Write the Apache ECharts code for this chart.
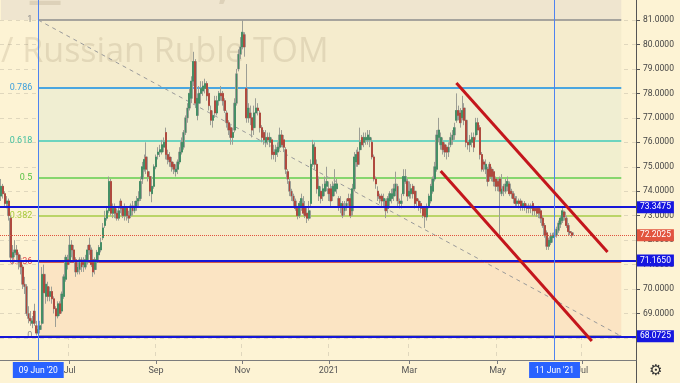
<!DOCTYPE html>
<html><head><meta charset="utf-8">
<script src="https://cdn.jsdelivr.net/npm/echarts@6/dist/echarts.min.js"></script>
<style>html,body{margin:0;padding:0;background:#fdf3d4;}#c{width:680px;height:383px;}</style>
</head><body><div id="c"></div>
<script>
// ---------- DATA ----------
const startDate = '2020-05-13';      // first daily bar (weekdays only)
const categoryCount = 324;           // bars incl. empty future space
// [open, close, low, high]
const ohlcPart1 = [
[73.8,74.2,73.6,74.5],[74.2,73.9,73.7,74.3],[73.9,73.5,73.4,74.0],[73.5,73.6,73.3,73.8],[73.6,73.0,72.8,73.7],
[72.9,71.3,71.1,73.0],[71.3,71.5,71.0,71.8],[71.5,71.6,71.3,72.0],[71.6,71.4,71.1,71.8],[71.4,71.1,70.8,71.5],
[71.1,70.9,70.6,71.4],[70.9,70.2,70.0,71.0],[70.2,70.1,69.8,70.5],[70.1,69.0,68.9,70.2],[69.0,68.8,68.6,69.3],
[68.8,68.7,68.5,69.1],[68.6,68.7,68.4,68.9],[69.1,68.6,68.5,69.4],[68.5,68.2,68.1,68.7],[68.2,68.35,68.07,68.5],
[68.35,68.5,68.2,68.7],[68.6,70.6,68.5,70.9],[70.6,69.85,69.7,71.0],[69.7,70.2,69.4,70.4],[70.1,69.7,69.5,70.3],
[69.7,69.9,69.5,70.1],[69.9,69.6,69.4,70.1],[69.6,69.2,69.0,69.7],[69.2,68.9,68.45,69.3],[68.9,69.4,68.8,69.5],
[69.4,69.0,68.9,69.5],[69.1,69.8,69.0,69.9],[69.7,70.5,69.6,70.6],[70.4,71.3,70.3,71.4],[71.2,71.0,70.8,71.4]
];
const ohlcPart2 = [
[71.1,71.8,71.0,72.2],[71.8,71.6,71.3,72.0],[71.6,71.2,71.1,71.8],[71.2,70.7,70.5,71.3],[70.7,70.9,70.6,71.1],
[70.8,71.2,70.6,71.3],[71.2,70.9,70.7,71.3],[71.1,71.0,70.7,71.3],[70.9,71.2,70.8,71.4],[71.1,71.6,71.0,71.8],
[71.8,71.6,71.4,72.1],[71.6,71.0,70.9,71.7],[71.2,70.7,70.5,71.3],[70.8,71.2,70.6,71.3],[71.1,71.5,71.0,71.6],
[71.4,71.7,71.3,71.8],[71.6,71.9,71.5,72.1],[72.1,72.5,72.0,72.7],[72.6,72.9,72.5,73.2],[72.9,73.2,72.8,73.4],
[73.2,74.4,73.1,74.6],[74.4,73.1,73.0,74.5],[73.1,73.3,72.9,73.5],[73.3,73.1,72.9,73.5],[73.1,72.9,72.8,73.3],
[72.9,73.2,72.8,73.4],[73.6,73.3,73.1,73.7],[73.3,73.0,72.9,73.4],[73.0,73.3,72.8,73.5],[73.3,73.0,72.8,73.4],
[73.0,72.9,72.7,73.2],[73.0,73.4,72.9,73.5],[73.4,73.2,73.0,73.6],[73.2,73.4,73.1,73.6],[73.4,73.6,73.2,73.8],
[73.6,73.7,73.4,74.0],[73.7,74.4,73.6,74.6],[74.5,75.0,74.3,75.2],[74.9,75.3,74.8,75.5],[75.4,74.9,74.7,76.0],
[74.8,74.6,74.4,75.0],[74.6,74.0,73.8,74.7],[73.9,74.2,73.55,74.4],[74.2,75.0,74.1,75.1],[75.0,75.4,74.9,75.5]
];
const ohlcPart3 = [
[75.5,75.6,75.3,75.8],[75.6,75.7,75.4,75.9],[75.6,75.9,75.5,76.1],[75.8,76.0,75.6,76.2],[76.4,75.5,75.3,76.6],
[75.5,75.3,75.1,75.7],[75.4,75.2,75.0,75.6],[75.2,75.0,74.8,75.4],[75.1,74.9,74.7,75.2],[74.8,74.9,74.6,75.1],
[74.9,75.2,74.7,75.3],[75.2,75.6,75.1,75.8],[75.6,76.0,75.5,76.2],[75.8,76.4,75.7,76.5],[76.4,77.0,76.3,77.1],
[77.0,77.4,76.8,77.6],[77.4,78.0,77.3,78.2],[77.8,78.5,77.6,78.7],[78.5,79.3,78.3,79.7],[79.3,77.6,77.4,79.4],
[77.1,77.8,76.9,78.0],[77.6,78.0,77.4,78.3],[78.0,78.2,77.9,78.5],[78.1,78.3,77.9,78.5],[78.2,78.4,78.0,78.6],
[78.4,77.9,77.7,78.5],[78.0,77.5,77.3,78.2],[77.3,76.9,76.7,77.5],[76.9,77.1,76.6,77.3],[77.7,77.2,77.0,77.9],
[77.2,77.7,77.1,77.9],[77.7,78.0,77.5,78.1],[78.0,77.9,77.7,78.3],[78.0,77.7,77.5,78.1],[77.7,77.3,77.2,77.8],
[77.2,76.8,76.6,77.3],[76.8,76.5,76.3,76.9],[76.6,76.2,75.9,76.7],[76.2,76.4,75.9,76.6],[76.5,77.6,76.4,77.8],
[77.6,78.8,77.5,79.0],[79.0,79.6,78.9,79.8],[79.6,79.9,79.4,80.3],[79.9,80.5,79.8,81.0],[80.4,79.9,79.5,80.5]
];
const ohlcPart4 = [
[78.2,77.0,76.8,79.2],[77.0,77.4,76.8,77.6],[77.2,77.0,76.7,77.5],[77.0,76.5,76.2,77.1],[76.6,77.2,76.3,77.5],
[77.2,77.4,77.0,77.8],[77.4,77.3,77.1,77.6],[77.2,76.6,76.4,77.3],[76.6,76.2,76.0,76.7],[76.4,76.1,75.9,76.5],
[76.0,76.2,75.8,76.5],[76.2,76.1,75.9,76.4],[76.0,76.2,75.8,76.4],[76.1,75.5,75.3,76.2],[75.6,75.5,75.3,75.9],
[75.5,75.7,75.2,75.9],[75.6,75.8,75.4,76.0],[75.8,76.3,75.7,76.6],[76.3,75.9,75.8,76.5],[76.1,75.8,75.6,76.3],
[75.7,74.9,74.7,75.8],[74.8,74.5,74.3,74.9],[74.4,74.0,73.8,74.5],[74.0,73.8,73.6,74.1],[73.8,73.6,73.4,73.9],
[73.6,73.3,73.2,73.7],[73.3,73.0,72.85,73.4],[73.0,73.5,72.9,73.6],[73.4,73.7,73.2,73.9],[73.5,73.1,73.0,73.8],
[73.3,73.0,72.9,73.6],[73.1,72.9,72.7,73.3],[72.9,73.2,72.8,73.6],[73.5,75.1,73.4,75.3],[75.1,75.9,75.0,76.1],
[75.8,75.1,74.9,76.0],[75.1,74.1,73.9,75.3],[73.8,74.2,73.6,74.6],[74.0,73.7,73.5,74.2],[73.8,74.1,73.6,74.3],
[74.0,74.3,73.8,74.6],[74.2,74.4,74.0,75.0],[74.1,73.9,73.6,74.4],[74.1,73.6,73.4,74.3],[73.8,74.2,73.6,74.4]
];
const ohlcPart5 = [
[74.0,74.3,73.8,74.9],[74.1,74.3,73.9,74.5],[73.7,73.4,73.2,73.8],[73.4,73.5,73.1,73.8],[73.5,73.0,72.9,73.6],
[73.2,73.4,73.0,73.6],[73.4,73.5,73.2,73.7],[73.7,73.6,73.4,73.9],[73.7,73.0,72.9,73.9],[73.2,74.1,73.0,74.3],
[74.1,75.4,74.0,75.6],[75.2,75.5,75.0,75.7],[75.6,75.1,75.0,75.8],[75.7,76.0,75.5,76.6],[76.2,75.9,75.7,76.3],
[76.0,76.2,75.8,76.4],[76.1,76.2,75.9,76.4],[76.1,76.3,75.9,76.5],[76.1,76.2,75.8,76.5],[76.0,75.4,75.3,76.2],
[75.4,74.5,74.4,75.5],[74.5,74.3,74.1,74.6],[74.0,73.8,73.6,74.2],[73.8,73.7,73.5,73.9],[73.8,73.6,73.4,73.9],
[73.6,73.7,73.4,73.9],[73.6,73.2,72.9,73.7],[73.3,73.7,73.1,73.8],[73.6,73.9,73.4,74.0],[73.7,73.9,73.5,74.1],
[73.8,74.1,73.6,74.3],[74.0,74.3,73.8,74.8],[74.2,73.6,73.4,74.3],[73.6,73.5,73.3,73.7],[73.5,73.6,73.3,73.9],
[73.9,74.6,73.8,74.9],[74.4,74.6,74.3,74.9],[74.4,73.8,73.6,74.5],[73.8,74.0,73.7,74.4],[73.9,74.1,73.7,74.3],
[74.2,73.9,73.7,74.3],[74.0,73.5,73.3,74.1],[73.7,73.6,73.4,73.8],[73.6,73.4,73.2,73.7],[73.5,73.3,73.1,73.6]
];
const ohlcPart6 = [
[73.3,73.0,72.9,73.4],[73.3,72.95,72.5,73.4],[72.95,73.35,72.8,73.5],[73.4,73.8,73.3,73.9],[73.6,74.2,73.5,74.3],
[74.0,74.5,73.9,74.6],[74.5,75.0,74.4,75.2],[74.9,76.3,74.8,76.5],[76.2,76.5,76.0,77.0],[75.9,76.2,75.7,76.4],
[76.0,75.7,75.5,76.2],[75.9,75.6,75.4,76.0],[75.8,75.6,75.3,75.9],[75.6,75.8,75.4,76.0],[75.9,76.2,75.8,76.4],
[76.1,76.3,75.9,76.5],[76.3,76.6,76.1,76.8],[76.9,77.3,76.8,78.0],[77.3,77.1,76.9,77.5],[77.2,76.8,76.6,77.4],
[77.0,77.3,76.9,77.9],[77.4,76.9,76.7,77.6],[76.9,76.0,75.8,77.0],[76.0,75.9,75.7,76.2],[75.9,76.1,75.6,76.3],
[76.0,76.2,75.8,76.4],[76.2,75.8,75.6,76.4],[76.3,76.8,76.1,77.0],[76.8,76.5,76.3,77.0],[76.6,75.5,75.3,76.7],
[75.5,74.9,74.8,75.6],[75.2,75.1,74.8,75.3],[74.9,75.1,74.7,75.3],[74.9,74.4,74.2,75.0],[75.1,74.6,74.4,75.2],
[74.9,74.6,74.4,75.0],[74.8,74.4,74.2,74.9],[74.5,74.2,74.0,74.6],[74.4,74.2,74.0,74.5],[74.5,74.0,72.1,74.6],
[73.9,74.1,73.8,74.7],[74.2,74.0,73.8,74.3],[74.0,74.3,73.9,74.5],[74.2,74.4,74.0,74.6],[74.3,73.9,73.8,74.4]
];
const ohlcPart7 = [
[74.0,73.9,73.7,74.1],[73.9,73.7,73.5,74.0],[73.7,73.5,73.4,73.8],[73.5,73.6,73.4,73.8],[73.6,73.5,73.3,73.7],
[73.6,73.4,73.2,73.7],[73.4,73.5,73.2,73.6],[73.5,73.4,73.2,73.6],[73.4,73.3,73.1,73.5],[73.4,73.3,73.1,73.5],
[73.3,73.4,73.1,73.5],[73.5,73.2,73.0,73.6],[73.3,73.2,73.0,73.4],[73.3,73.1,72.95,73.35],[73.3,73.1,72.9,73.4],
[73.2,72.9,72.7,73.3],[72.9,72.6,72.5,73.0],[72.6,72.2,72.1,72.7],[72.3,71.75,71.6,72.4],[71.75,72.0,71.6,72.1],
[71.9,72.15,71.8,72.3],[72.1,72.2,71.9,72.3],[72.15,72.3,72.0,72.4],[72.2,72.45,72.1,72.55],[72.4,72.7,72.3,72.8],
[72.65,72.9,72.5,73.0],[72.8,73.2,72.7,73.35],[73.15,72.95,72.8,73.2],[72.9,72.6,72.5,73.0],[72.6,72.35,72.2,72.7],
[72.35,72.3,72.2,72.5],[72.3,72.2025,72.1,72.35]
];
const yTickValues = [68,69,70,71,72,73,74,75,76,77,78,79,80,81];
const fibHigh = 81.0, fibLow = 68.0725;
const fibLevels = [1, 0.786, 0.618, 0.5, 0.382, 0.236, 0];
const fibStartIndex = 19, fibEndIndex = 316;
const blueLevels = [73.3475, 71.165, 68.0725];
const blueLevelLabels = ['73.3475', '71.1650', '68.0725'];
const lastPrice = 72.2025;
const lastPriceLabel = '72.2025';
const markedDates = ['2020-06-09', '2021-06-11'];
const markedDateLabels = ["09 Jun '20", "11 Jun '21"];
const channelUpper = [[232, 78.42], [309, 71.52]];
const channelLower = [[224, 74.83], [301, 67.88]];
const monthNames = ['Jan','Feb','Mar','Apr','May','Jun','Jul','Aug','Sep','Oct','Nov','Dec'];

// ---------- BUILD ----------
const ohlc = [].concat(ohlcPart1, ohlcPart2, ohlcPart3, ohlcPart4, ohlcPart5, ohlcPart6, ohlcPart7);
const dates = [];
{ const d = new Date(startDate + 'T00:00:00Z');
  while (dates.length < categoryCount) { const w = d.getUTCDay(); if (w !== 0 && w !== 6) dates.push(d.toISOString().slice(0,10)); d.setUTCDate(d.getUTCDate()+1); } }
const bodies = ohlc.map(r => [r[0], r[1], Math.min(r[0], r[1]), Math.max(r[0], r[1])]);
function isLabelTick(i) { if (i <= 0) return false; const m = dates[i].slice(5,7); return m !== dates[i-1].slice(5,7) && (+m) % 2 === 1; }
const fibPrice = l => fibLow + l * (fibHigh - fibLow);
const fibLineColors = ['#8c8c8c','#4aa6e0','#6cd4bf','#86d66e','#bad468','#d25a4c','#8c8c8c'];
const fibLabelColors = ['#8a8a8a','#3c9fdc','#3fbf9f','#58c244','#a6c93a','#e04848','#8a8a8a'];
const fibFillColors = ['#f5eccd','#f0eed2','#f1efcf','#f3eecd','#f6edcb','#fbe4c3'];
const FONT = 'Roboto';

const fibAreas = [[{coord:[0, 81.818], itemStyle:{color:'#efe5cf'}}, {coord:[fibEndIndex, fibHigh]}]];
for (let k = 0; k < fibLevels.length - 1; k++) {
  fibAreas.push([{coord:[fibStartIndex, fibPrice(fibLevels[k])], itemStyle:{color:fibFillColors[k]}},
                 {coord:[fibEndIndex, fibPrice(fibLevels[k+1])]}]);
}
const fibLines = fibLevels.map((l, k) => [
  {coord:[fibStartIndex, fibPrice(l)], lineStyle:{color:fibLineColors[k], width: (l===0||l===1)?1.5:2, type:'solid'},
   label:{show:true, position:'start', distance:6, formatter: String(l), color: fibLabelColors[k], fontSize: 9, fontFamily: FONT}},
  {coord:[fibEndIndex, fibPrice(l)]}
]);
fibLines.push([{coord:[fibStartIndex, fibHigh], lineStyle:{color:'#9a9a9a', width:1, type:[4,4]}, label:{show:false}},
               {coord:[fibEndIndex, fibLow]}]);

const boxLabel = (bg, txt) => ({show:true, position:'end', distance:1, color:'#fff', backgroundColor:bg, padding:[2,3,1,3],
  fontSize:8.5, fontFamily:FONT, formatter: txt});
const drawLines = [];
blueLevels.forEach((v, k) => drawLines.push({yAxis:v, lineStyle:{color:'#1616d8', width:2, type:'solid'}, label: boxLabel('#1616e0', blueLevelLabels[k])}));
drawLines.push({yAxis:lastPrice, lineStyle:{color:'#e0533f', width:1, type:'dotted'}, label: boxLabel('#e2543f', lastPriceLabel)});
markedDates.forEach((d, k) => drawLines.push({xAxis:d, lineStyle:{color:'#4f83f0', width:1, type:'solid'},
  label:{show:true, position:'start', distance:2, color:'#fff', backgroundColor:'#2962ff', padding:[4,6,3,6],
         fontSize:8.5, fontFamily:FONT, formatter: markedDateLabels[k]}}));
[channelUpper, channelLower].forEach(c => drawLines.push([
  {coord:c[0], lineStyle:{color:'#c4161c', width:3, type:'solid'}, label:{show:false}}, {coord:c[1]}]));

const chart = echarts.init(document.getElementById('c'), null, {renderer:'canvas'});
chart.setOption({
  animation:false,
  backgroundColor:'#fdf3d4',
  textStyle:{fontFamily:FONT},
  grid:{left:0, right:44, top:0, bottom:23},
  xAxis:{type:'category', data:dates, boundaryGap:true,
    axisLine:{show:true, lineStyle:{color:'#7c7c7c'}},
    axisTick:{show:true, alignWithLabel:true, interval:(i)=>isLabelTick(i), length:4, lineStyle:{color:'#7c7c7c'}},
    axisLabel:{interval:(i)=>isLabelTick(i), margin:6, color:'#555', fontSize:9, fontFamily:FONT,
      formatter:v => { const m = +v.slice(5,7); return m === 1 ? v.slice(0,4) : monthNames[m-1]; }},
    splitLine:{show:true, interval:(i)=>isLabelTick(i), lineStyle:{color:'rgba(150,145,130,0.28)', type:[4,4]}}
  },
  yAxis:{type:'value', position:'right', min:67.1, max:81.818, scale:true,
    axisLine:{show:true, lineStyle:{color:'#555'}},
    axisTick:{show:true, length:4, customValues:yTickValues, lineStyle:{color:'#555'}},
    axisLabel:{customValues:yTickValues, margin:7, color:'#444', fontSize:8.5, fontFamily:FONT, formatter:v=>v.toFixed(4)},
    splitLine:{show:true, lineStyle:{color:'rgba(150,145,130,0.28)', type:[4,4]}}
  },
  graphic:[
    {type:'text', z:1, silent:true, style:{text:'USDRUB_TOM, 1D', x:-250, y:-60,
      font:'70px "Open Sans"', fill:'rgba(110,90,60,0.14)'}},
    {type:'text', z:1, silent:true, style:{text:'U.S. Dollar / Russian Ruble TOM', x:-173, y:35,
      font:'34px "Open Sans"', fill:'rgba(110,90,60,0.14)'}},
    {type:'line', silent:true, shape:{x1:636.5, y1:360, x2:636.5, y2:383}, style:{stroke:'#555', lineWidth:1}},
    {type:'text', silent:true, style:{text:'\u2699', x:656, y:364, align:'center',
      font:'15px "DejaVu Sans"', fill:'#333'}}
  ],
  series:[
    {name:'fib', type:'line', data:[], z:0, silent:true,
      markArea:{silent:true, z:0, data:fibAreas},
      markLine:{silent:true, z:2, symbol:['none','none'], data:fibLines}},
    {name:'wicks', type:'candlestick', data:ohlc, z:5, silent:true, barWidth:2.2,
      itemStyle:{color:'#9c9e95', color0:'#9c9e95', borderColor:'#9c9e95', borderColor0:'#9c9e95', borderWidth:1}},
    {name:'bodies', type:'candlestick', data:bodies, z:6, silent:true, barWidth:1.4,
      itemStyle:{color:'#2f8a5a', color0:'#b3352a', borderColor:'#2f8a5a', borderColor0:'#b3352a', borderWidth:0.6}},
    {name:'drawings', type:'line', data:[], z:10, silent:true,
      markLine:{silent:true, z:10, symbol:['none','none'], data:drawLines}}
  ]
});
</script></body></html>
